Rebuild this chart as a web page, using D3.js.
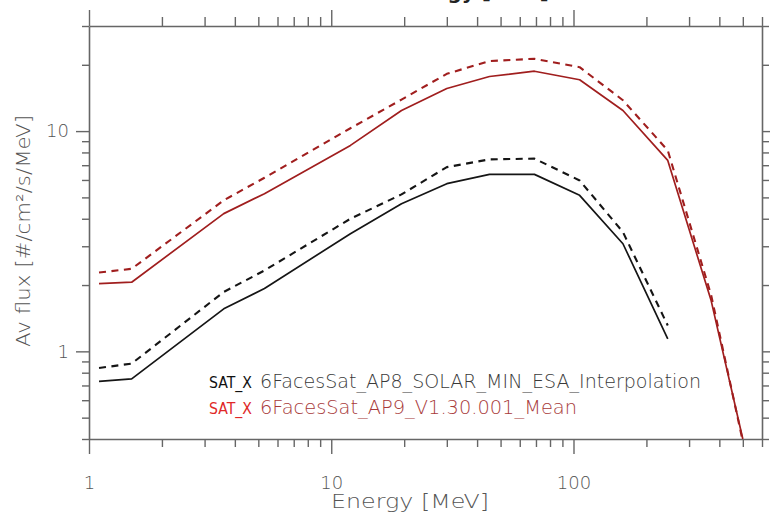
<!DOCTYPE html>
<html>
<head>
<meta charset="utf-8">
<script src="https://cdn.jsdelivr.net/npm/d3@7"></script>
<style>
body{margin:0;background:#fff;}
svg{display:block;}
text{font-family:'DejaVu Sans', sans-serif;font-weight:200;}
</style>
</head>
<body>
<svg id="chart" width="770" height="519"></svg>
<script>
// energies of the AP8 / AP9 curves [MeV]
var energyAP8 = [1.1, 1.5, 3.6, 5.3, 12, 19.5, 30, 45, 69, 106, 160, 245];
var energyAP9 = [1.1, 1.5, 3.6, 5.3, 12, 19.5, 30, 45, 69, 106, 160, 245, 370, 500];

// av flux [#/cm2/s/MeV]
var ap8Solid  = [0.73, 0.75, 1.56, 1.93, 3.42, 4.68, 5.77, 6.36, 6.36, 5.11, 3.08, 1.14];
var ap8Dashed = [0.84, 0.88, 1.86, 2.33, 4.00, 5.16, 6.86, 7.44, 7.50, 5.97, 3.48, 1.31];
var ap9Solid  = [2.03, 2.06, 4.22, 5.20, 8.61, 12.4, 15.6, 17.7, 18.7, 17.1, 12.4, 7.36, 1.70, 0.40];
var ap9Dashed = [2.28, 2.37, 4.85, 6.14, 10.3, 13.9, 18.2, 20.8, 21.3, 19.5, 13.8, 8.17, 1.80, 0.39];

var xTickLabels = [1, 10, 100];
var yTickLabels = [1, 10];

var legendNames = ["6FacesSat_AP8_SOLAR_MIN_ESA_Interpolation", "6FacesSat_AP9_V1.30.001_Mean"];

var plotLeft = 89, plotRight = 762, plotTop = 26, plotBottom = 439;
var axisColor = "#666";
var red = "#a01e1e";

var svg = d3.select("#chart");

var x = d3.scaleLog().domain([1, 600]).range([plotLeft, plotRight]);
var y = d3.scaleLog().domain([0.4, 30]).range([plotBottom, plotTop]);

var xTicks = x.ticks().filter(function(d){ return d >= 1 && d <= 600; });
var yTicks = y.ticks().filter(function(d){ return d >= 0.399 && d <= 30.01; });

function isMajor(list){
	return function(d){ return list.some(function(v){ return Math.abs(v - d) < 1e-6 * v; }); };
}
var xMajor = isMajor(xTickLabels), yMajor = isMajor(yTickLabels);

function styleAxis(g){
	g.select(".domain").attr("stroke", axisColor).attr("stroke-width", 1.6);
	g.selectAll(".tick line").attr("stroke", axisColor).attr("stroke-width", 1.4);
	g.selectAll(".tick text").attr("fill", "#555")
		.style("font-family", "'DejaVu Sans', sans-serif").style("font-size", "18px");
}

// bottom
var gB = svg.append("g").attr("transform", "translate(0," + plotBottom + ")")
	.call(d3.axisBottom(x).tickValues(xTicks).tickSizeOuter(0).tickPadding(31)
		.tickFormat(function(d){ return xMajor(d) ? d3.format("d")(d) : ""; }));
gB.selectAll(".tick line").attr("y2", function(d){ return xMajor(d) ? 15 : 8; });
styleAxis(gB);

// top
var gT = svg.append("g").attr("transform", "translate(0," + plotTop + ")")
	.call(d3.axisTop(x).tickValues(xTicks).tickSizeOuter(0).tickFormat(""));
gT.selectAll(".tick line").attr("y2", function(d){ return xMajor(d) ? -16 : -9; });
styleAxis(gT);

// left
var gL = svg.append("g").attr("transform", "translate(" + plotLeft + ",0)")
	.call(d3.axisLeft(y).tickValues(yTicks).tickSizeOuter(0).tickPadding(8)
		.tickFormat(function(d){ return yMajor(d) ? d3.format("d")(d) : ""; }));
gL.selectAll(".tick line").attr("x2", function(d){ return yMajor(d) ? -13 : -7; });
styleAxis(gL);
gL.selectAll(".tick text").attr("x", -20);

// right
var gR = svg.append("g").attr("transform", "translate(" + plotRight + ",0)")
	.call(d3.axisRight(y).tickValues(yTicks).tickSizeOuter(0).tickFormat(""));
gR.selectAll(".tick line").attr("x2", function(d){ return yMajor(d) ? 13 : 7; });
styleAxis(gR);

// clip
svg.append("clipPath").attr("id", "plotClip")
	.append("rect").attr("x", plotLeft).attr("y", plotTop)
	.attr("width", plotRight - plotLeft).attr("height", plotBottom - plotTop);

function drawCurve(energies, values, color, dashed){
	var line = d3.line()
		.x(function(d, i){ return x(energies[i]); })
		.y(function(d){ return y(d); });
	svg.append("path")
		.attr("clip-path", "url(#plotClip)")
		.attr("d", line(values))
		.attr("fill", "none")
		.attr("stroke", color)
		.attr("stroke-width", dashed ? 2.1 : 1.7)
		.attr("stroke-dasharray", dashed ? "7,5.5" : null)
		.attr("stroke-linejoin", "round");
}

drawCurve(energyAP8, ap8Dashed, "#151515", true);
drawCurve(energyAP8, ap8Solid, "#151515", false);
drawCurve(energyAP9, ap9Dashed, red, true);
drawCurve(energyAP9, ap9Solid, red, false);

// legend
var legend = svg.append("g");
var legendRows = [
	{y: 388, tagColor: "#111", textColor: "#3a3a3a", name: legendNames[0], width: 441},
	{y: 414, tagColor: "#e02828", textColor: "#a83a3a", name: legendNames[1], width: 317}
];
legendRows.forEach(function(r){
	legend.append("text").attr("x", 209).attr("y", r.y)
		.attr("fill", r.tagColor).style("font-size", "15px").style("font-weight", "normal")
		.attr("textLength", 43).attr("lengthAdjust", "spacingAndGlyphs")
		.text("SAT_X");
	legend.append("text").attr("x", 260).attr("y", r.y)
		.attr("fill", r.textColor).style("font-size", "19px")
		.attr("textLength", r.width).attr("lengthAdjust", "spacingAndGlyphs")
		.text(r.name);
});

// axis titles
svg.append("text")
	.attr("x", 410).attr("y", 508)
	.attr("text-anchor", "middle")
	.attr("fill", "#555")
	.style("font-size", "19px")
	.attr("textLength", 158).attr("lengthAdjust", "spacingAndGlyphs")
	.text("Energy [MeV]");

svg.append("text")
	.attr("transform", "translate(30,231) rotate(-90)")
	.attr("text-anchor", "middle")
	.attr("fill", "#555")
	.style("font-size", "19px")
	.attr("textLength", 232).attr("lengthAdjust", "spacingAndGlyphs")
	.text("Av flux [#/cm²/s/MeV]");

// title (cut off at the top of the picture, as in the original)
svg.append("text")
	.attr("x", 549).attr("y", -1)
	.attr("text-anchor", "end")
	.attr("fill", "#222")
	.style("font-size", "20px").style("font-weight", "bold")
	.text("Av flux vs Energy [MeV]");
</script>
</body>
</html>
